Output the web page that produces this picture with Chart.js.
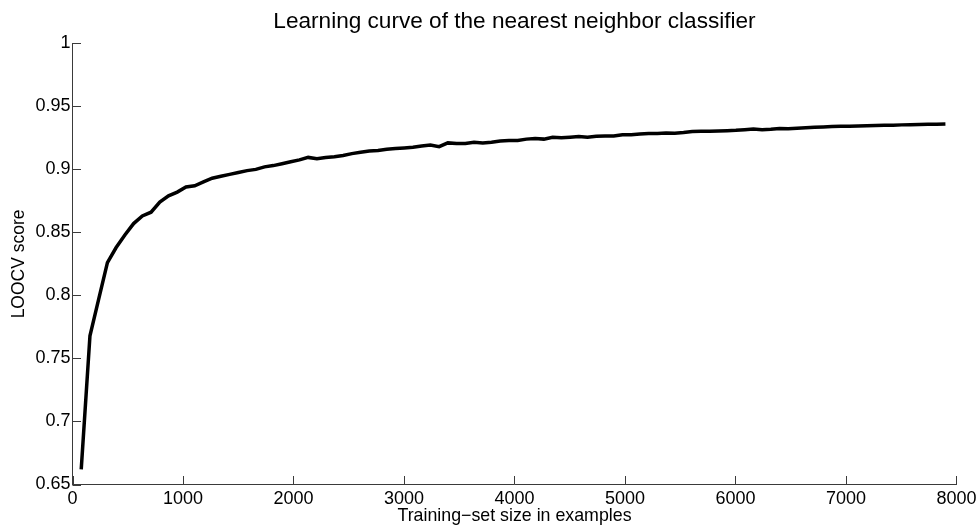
<!DOCTYPE html>
<html>
<head>
<meta charset="utf-8">
<title>Learning curve of the nearest neighbor classifier</title>
<script src="https://cdn.jsdelivr.net/npm/chart.js@4.4.1/dist/chart.umd.min.js"></script>
<style>
  html, body { margin: 0; padding: 0; background: #ffffff; }
  #wrap { width: 980px; height: 527px; position: relative; }
</style>
</head>
<body>
<div id="wrap"><canvas id="chart" width="980" height="527"></canvas></div>
<script>
// Training-set sizes (number of examples)
const trainingSizes = [
  79, 158, 237, 316, 395, 474, 553, 632, 711, 790,
  869, 948, 1027, 1106, 1185, 1264, 1343, 1422, 1501, 1580,
  1659, 1738, 1817, 1896, 1975, 2054, 2133, 2212, 2291, 2370,
  2449, 2528, 2607, 2686, 2765, 2844, 2923, 3002, 3081, 3160,
  3239, 3318, 3397, 3476, 3555, 3634, 3713, 3792, 3871, 3950,
  4029, 4108, 4187, 4266, 4345, 4424, 4503, 4582, 4661, 4740,
  4819, 4898, 4977, 5056, 5135, 5214, 5293, 5372, 5451, 5530,
  5609, 5688, 5767, 5846, 5925, 6004, 6083, 6162, 6241, 6320,
  6399, 6478, 6557, 6636, 6715, 6794, 6873, 6952, 7031, 7110,
  7189, 7268, 7347, 7426, 7505, 7584, 7663, 7742, 7821, 7900
];

// Leave-one-out cross-validation score for each training-set size
const loocvScores = [
  0.662, 0.768, 0.797, 0.826, 0.838, 0.848, 0.857, 0.863, 0.866, 0.874,
  0.879, 0.882, 0.886, 0.887, 0.890, 0.893, 0.8945, 0.896, 0.8975, 0.899,
  0.900, 0.902, 0.903, 0.9045, 0.906, 0.9075, 0.9095, 0.9085, 0.9095, 0.910,
  0.911, 0.9125, 0.9135, 0.9145, 0.915, 0.916, 0.9165, 0.917, 0.9175, 0.9185,
  0.9193, 0.918, 0.921, 0.9205, 0.9205, 0.9215, 0.921, 0.9215, 0.9225, 0.923,
  0.923, 0.924, 0.9245, 0.924, 0.9255, 0.925, 0.9255, 0.926, 0.9255, 0.9262,
  0.9265, 0.9265, 0.9275, 0.9275, 0.928, 0.9285, 0.9285, 0.9288, 0.9287, 0.9292,
  0.930, 0.9302, 0.9302, 0.9305, 0.9307, 0.931, 0.9315, 0.932, 0.9315, 0.9318,
  0.9325, 0.9323, 0.9327, 0.933, 0.9334, 0.9337, 0.934, 0.9342, 0.9343, 0.9345,
  0.9347, 0.9348, 0.935, 0.9351, 0.9353, 0.9354, 0.9356, 0.9357, 0.9358, 0.936
];

// Axis tick values
const xTicks = [0, 1000, 2000, 3000, 4000, 5000, 6000, 7000, 8000];
const yTicks = [0.65, 0.7, 0.75, 0.8, 0.85, 0.9, 0.95, 1];

const FONT = "'Liberation Sans', Arial, Helvetica, sans-serif";
const AXIS_COLOR = '#3a3a3a';

// Inward-pointing tick marks along the left and bottom axes
const inwardTicks = {
  id: 'inwardTicks',
  afterDraw(chart) {
    const { ctx, chartArea, scales } = chart;
    const len = 8.5;
    ctx.save();
    ctx.strokeStyle = AXIS_COLOR;
    ctx.lineWidth = 1;
    ctx.beginPath();
    xTicks.forEach(v => {
      const px = Math.round(scales.x.getPixelForValue(v)) + 0.5;
      ctx.moveTo(px, chartArea.bottom);
      ctx.lineTo(px, chartArea.bottom - len);
    });
    yTicks.forEach(v => {
      const py = Math.round(scales.y.getPixelForValue(v)) + 0.5;
      ctx.moveTo(chartArea.left, py);
      ctx.lineTo(chartArea.left + len, py);
    });
    ctx.stroke();
    ctx.restore();
  }
};

const points = trainingSizes.map((n, i) => ({ x: n, y: loocvScores[i] }));

new Chart(document.getElementById('chart'), {
  type: 'line',
  data: {
    datasets: [{
      data: points,
      borderColor: '#000000',
      borderWidth: 3.5,
      pointRadius: 0,
      tension: 0,
      fill: false
    }]
  },
  options: {
    responsive: false,
    animation: false,
    events: [],
    layout: { padding: { left: 0, right: 21.7, top: 0, bottom: 0 } },
    plugins: {
      legend: { display: false },
      tooltip: { enabled: false },
      title: {
        display: true,
        fullSize: false,
        text: 'Learning curve of the nearest neighbor classifier',
        color: '#000000',
        font: { family: FONT, size: 22.6, weight: 'normal', lineHeight: 1.2 },
        padding: { top: 8.5, bottom: 7.7 }
      }
    },
    scales: {
      x: {
        type: 'linear',
        min: 0,
        max: 8000,
        afterFit(scale) { scale.height = 42.5; },
        afterBuildTicks(scale) { scale.ticks = xTicks.map(v => ({ value: v })); },
        grid: { display: true, drawOnChartArea: false, drawTicks: false },
        border: { display: true, color: AXIS_COLOR, width: 1 },
        ticks: {
          color: '#000000',
          padding: 3.5,
          maxRotation: 0,
          autoSkip: false,
          font: { family: FONT, size: 18 },
          callback: v => String(v)
        },
        title: {
          display: true,
          text: 'Training\u2212set size in examples',
          color: '#000000',
          font: { family: FONT, size: 17.8, lineHeight: 1.2 },
          padding: { top: 0, bottom: 0 }
        }
      },
      y: {
        type: 'linear',
        min: 0.65,
        max: 1,
        afterFit(scale) { scale.width = 72.5; },
        afterBuildTicks(scale) { scale.ticks = yTicks.map(v => ({ value: v })); },
        grid: { display: true, drawOnChartArea: false, drawTicks: false },
        border: { display: true, color: AXIS_COLOR, width: 1 },
        ticks: {
          color: '#000000',
          padding: 2,
          autoSkip: false,
          font: { family: FONT, size: 18 },
          callback: v => String(parseFloat(v.toFixed(2)))
        },
        title: {
          display: true,
          text: 'LOOCV score',
          color: '#000000',
          font: { family: FONT, size: 17.5, lineHeight: 1.2 },
          padding: { top: 8.5, bottom: 0 }
        }
      }
    }
  },
  plugins: [inwardTicks]
});
</script>
</body>
</html>
